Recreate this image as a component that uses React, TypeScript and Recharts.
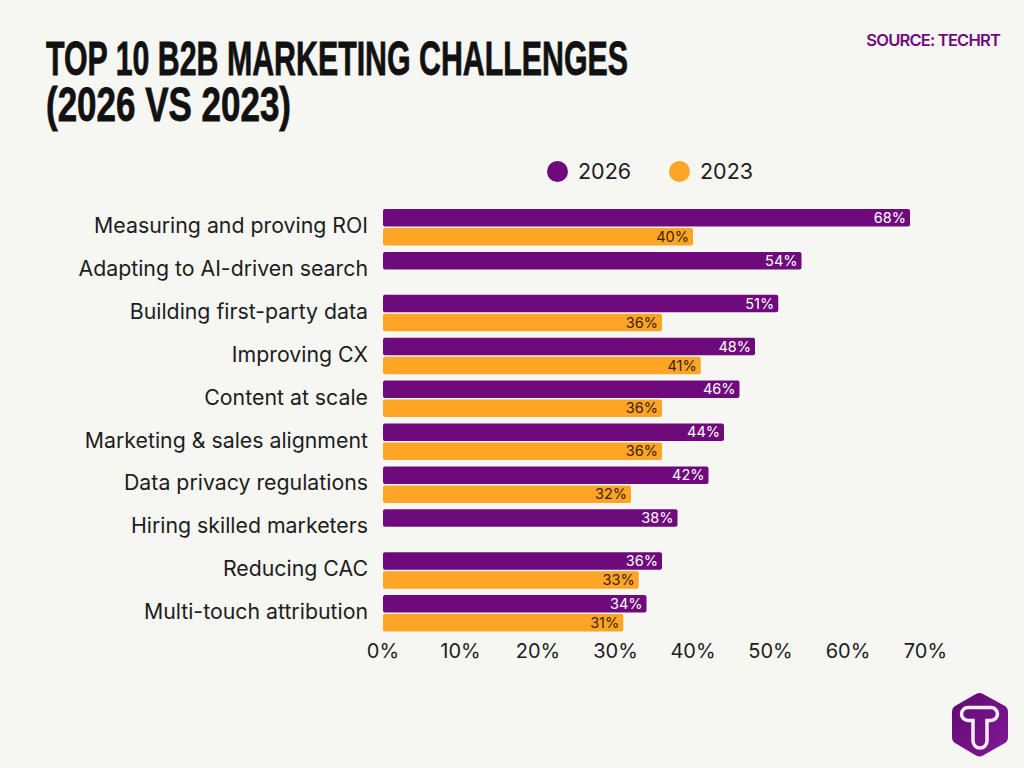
import { BarChart, Bar, XAxis, YAxis, Legend, LabelList } from "recharts";

const categories = [
  "Measuring and proving ROI",
  "Adapting to AI-driven search",
  "Building first-party data",
  "Improving CX",
  "Content at scale",
  "Marketing & sales alignment",
  "Data privacy regulations",
  "Hiring skilled marketers",
  "Reducing CAC",
  "Multi-touch attribution",
];
const values2026 = [68, 54, 51, 48, 46, 44, 42, 38, 36, 34];
const values2023 = [40, null, 36, 41, 36, 36, 32, null, 33, 31];
const xTicks = [0, 10, 20, 30, 40, 50, 60, 70];

const data = categories.map((name, i) => ({
  name,
  "2026": values2026[i],
  "2023": values2023[i],
}));

const PURPLE = "#6f0a7d";
const ORANGE = "#ffa526";
const INK = "#1d1d1d";
const BG = "#f6f6f3";
const FONT = "Inter, sans-serif";

const pct = (v: unknown) => (v == null ? "" : `${v}%`);

function LegendRow({ payload }: { payload?: ReadonlyArray<{ value?: string; color?: string }> }) {
  return (
    <div style={{ display: "flex", fontFamily: FONT, fontSize: 21.5, color: INK, lineHeight: "24px" }}>
      {(payload ?? []).map((p) => (
        <div key={p.value} style={{ display: "flex", alignItems: "center", width: 122 }}>
          <span
            style={{ width: 21, height: 21, borderRadius: "50%", background: p.color, marginRight: 10 }}
          />
          {p.value}
        </div>
      ))}
    </div>
  );
}

function Logo() {
  return (
    <svg width={60} height={66} viewBox="0 0 60 66" style={{ position: "absolute", left: 950, top: 692 }}>
      <defs>
        <linearGradient id="logoFill" x1="0" y1="0" x2="1" y2="1">
          <stop offset="0%" stopColor="#5f0a70" />
          <stop offset="100%" stopColor="#83189a" />
        </linearGradient>
      </defs>
      <path
        d="M26 2 Q29.5 0 33 2 L55 14 Q58 16 58 20 L58 45 Q58 49 55 51 L33 63.5 Q29.5 65.5 26 63.5 L5 51 Q2 49 2 45 L2 20 Q2 16 5 14 Z"
        fill="url(#logoFill)"
      />
      <path
        d="M18 15.5 L41 15.5 A6.5 6.5 0 0 1 41 28.5 L37 28.5 L37 49 A7 7 0 0 1 23 49 L23 28.5 L18 28.5 A6.5 6.5 0 0 1 18 15.5 Z"
        fill="none"
        stroke="#fbeefd"
        strokeWidth={3.5}
      />
    </svg>
  );
}

export default function App() {
  return (
    <div style={{ position: "fixed", left: 0, top: 0, width: 1024, height: 768, background: BG, overflow: "hidden" }}>
      <svg width={1024} height={140} style={{ position: "absolute", left: 0, top: 0 }}>
        {/* tall condensed headline: no such font installed, so stretch the narrow one */}
        <g
          transform="scale(1 1.6)"
          fontFamily="'Liberation Sans Narrow', 'Liberation Sans', sans-serif"
          fontWeight={700}
          fontSize={30}
          fill="#111"
          stroke="#111"
          strokeWidth={0.5}
        >
          <text x={46} y={46.9} textLength={582} lengthAdjust="spacingAndGlyphs">
            TOP 10 B2B MARKETING CHALLENGES
          </text>
          <text x={46} y={75.6} textLength={245} lengthAdjust="spacingAndGlyphs">
            (2026 VS 2023)
          </text>
        </g>
        <text x={1000} y={46} textAnchor="end" fontFamily={FONT} fontWeight={600} fontSize={16.5} letterSpacing={-0.8} fill={PURPLE}>
          SOURCE: TECHRT
        </text>
      </svg>
      <BarChart
        width={1024}
        height={768}
        data={data}
        layout="vertical"
        margin={{ top: 206, right: 98.5, bottom: 103, left: 43 }}
        barSize={17.5}
        barGap={1.5}
        style={{ position: "absolute", left: 0, top: 0 }}
      >
        <XAxis
          type="number"
          domain={[0, 70]}
          ticks={xTicks}
          tickFormatter={pct}
          height={30}
          axisLine={false}
          tickLine={false}
          tickMargin={3}
          tick={{ fontSize: 20, fontFamily: FONT, fill: INK }}
        />
        <YAxis
          type="category"
          dataKey="name"
          width={340}
          interval={0}
          axisLine={false}
          tickLine={false}
          tickSize={0}
          tickMargin={15}
          tick={{ fontSize: 21.3, fontFamily: FONT, fill: INK, dy: -2 }}
        />
        <Legend
          layout="horizontal"
          verticalAlign="middle"
          align="center"
          itemSorter={null}
          content={LegendRow as never}
          wrapperStyle={{ position: "absolute", left: 547, top: 159, width: 260, height: 24 }}
        />
        <Bar dataKey="2026" fill={PURPLE} radius={2} isAnimationActive={false}>
          <LabelList dataKey="2026" position="insideRight" formatter={pct} offset={4} fill="#fff" fontSize={14.5} fontFamily={FONT} />
        </Bar>
        <Bar dataKey="2023" fill={ORANGE} radius={2} isAnimationActive={false}>
          <LabelList dataKey="2023" position="insideRight" formatter={pct} offset={4} fill="#3a2205" fontSize={14.5} fontFamily={FONT} />
        </Bar>
      </BarChart>
      <Logo />
    </div>
  );
}
